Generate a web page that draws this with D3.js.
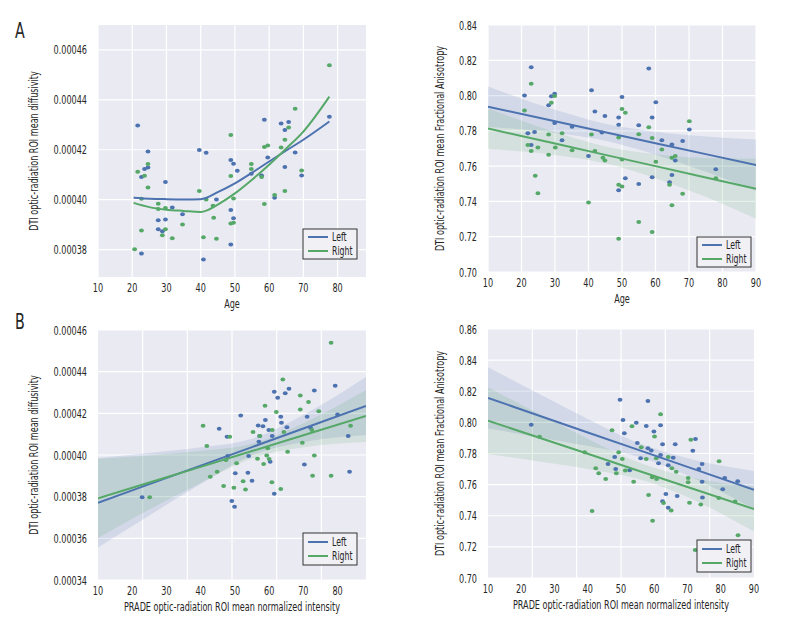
<!DOCTYPE html>
<html><head><meta charset="utf-8">
<script src="https://cdn.jsdelivr.net/npm/d3@7/dist/d3.min.js"></script>
<style>
body{margin:0;background:#fff;}
svg text{font-family:"DejaVu Sans Condensed","Liberation Sans Narrow","Arial Narrow",sans-serif;fill:#262626;}
</style></head>
<body><svg id="c" width="792" height="636"></svg>
<script>
// ---------- DATA ----------
const seriesNames = ["Left", "Right"];
const seriesColors = ["#4C72B0", "#55A868"];

// Panel A (left): Age vs mean diffusivity
const aMdLeftX = [21.6,24.6,23.6,24.6,22.7,29.7,31.7,34.7,27.6,29.7,27.6,28.8,22.7,39.6,41.6,40.8,44.6,48.8,49.6,50.7,48.8,49.6,48.8,54.8,57.8,58.6,59.6,63.5,65.7,64.6,64.6,67.6,61.6,69.5,77.6];
const aMdLeftY = [4.297,4.193,4.123,4.129,4.091,4.071,3.969,3.941,3.917,3.920,3.881,3.873,3.784,4.199,4.188,3.760,4.001,4.159,4.144,4.116,3.959,3.925,3.820,4.104,4.097,4.320,4.169,4.305,4.311,4.279,4.131,4.189,4.008,4.097,4.332].map(v=>v*1e-4);
const aMdRightX = [77.6,67.6,48.8,21.6,23.6,24.6,24.6,22.7,27.6,27.6,29.7,22.7,28.8,29.7,31.7,34.7,20.7,39.6,41.6,43.6,43.8,40.8,44.6,48.8,49.6,48.8,49.6,54.8,54.8,57.8,58.6,58.6,59.6,63.5,64.6,65.7,61.6,64.6,69.5];
const aMdRightY = [4.539,4.364,4.259,4.112,4.096,4.143,4.049,4.004,3.984,3.963,3.967,3.876,3.857,3.881,3.845,3.900,3.801,4.035,4.001,3.976,3.927,3.849,3.843,4.095,4.005,3.904,3.907,4.143,4.123,4.091,3.983,4.211,4.217,4.209,4.240,4.289,4.019,4.035,4.117].map(v=>v*1e-4);
// LOWESS curves
const aMdLeftFitX = [20.4,25,30,35,40,45,50,55,60,65,70,77.6];
const aMdLeftFitY = [4.008,4.004,4.002,4.001,4.002,4.030,4.065,4.108,4.153,4.197,4.240,4.313].map(v=>v*1e-4);
const aMdRightFitX = [20.4,25,30,35,40,42,45,50,55,60,65,70,77.6];
const aMdRightFitY = [3.987,3.970,3.960,3.955,3.951,3.958,3.980,4.025,4.080,4.140,4.205,4.273,4.413].map(v=>v*1e-4);

// Panel A (right): Age vs fractional anisotropy
const aFaLeftX = [22.9,20.9,28.9,29.9,28.1,21.9,23.9,22.9,29.9,32.1,35.1,40.9,41.9,44.9,49,49,50,40,55,51,55,49,58,60.1,59,61.9,64.9,68.1,70.1,59,64.9,65.9,64.2,78,44];
const aFaLeftY = [0.816,0.800,0.7996,0.801,0.7945,0.7787,0.7794,0.772,0.7844,0.7747,0.7823,0.803,0.791,0.7884,0.7876,0.7834,0.7992,0.7657,0.7832,0.7531,0.7499,0.7463,0.8154,0.7962,0.7876,0.7747,0.7722,0.7743,0.7808,0.7537,0.755,0.7632,0.7508,0.7583,0.779];
const aFaRightX = [22.9,20.9,28.9,29.9,21.9,22.9,24.9,24.1,24.9,28.1,28.1,32.1,30.1,35.1,40,41.9,40.9,44.3,44.9,50,51,49,50,49,50,55,55,49,58,59,60.1,59,61.9,64.9,65.9,64.2,64.9,68.1,70.1,78];
const aFaRightY = [0.8067,0.7916,0.796,0.7998,0.772,0.7686,0.7705,0.7545,0.7446,0.7779,0.7665,0.7787,0.7705,0.769,0.7394,0.7686,0.7779,0.7648,0.7632,0.7924,0.7903,0.7762,0.7638,0.7495,0.7484,0.7781,0.7284,0.7189,0.7821,0.776,0.7625,0.7227,0.7695,0.7648,0.7657,0.7495,0.7379,0.7444,0.7855,0.7531];
const aFaBandX = [10,30,45,60,75,90];
const aFaLeftFit = [0.7937,0.7854,0.7792,0.7730,0.7668,0.7606];
const aFaLeftHi  = [0.8052,0.7919,0.7840,0.7795,0.7768,0.7751];
const aFaLeftLo  = [0.7822,0.7789,0.7744,0.7665,0.7568,0.7461];
const aFaRightFit = [0.7813,0.7728,0.7664,0.7600,0.7536,0.7472];
const aFaRightHi  = [0.7928,0.7793,0.7712,0.7668,0.7646,0.7642];
const aFaRightLo  = [0.7698,0.7663,0.7616,0.7532,0.7426,0.7302];

// Panel B (left): PRADE intensity vs mean diffusivity
const bMdLeftX = [22.9,45.4,47.7,51.7,49.1,49.9,50.1,53.8,55.0,54.0,56.8,58.2,58.9,59.9,57.2,57.0,60.9,60.3,61.5,64.7,65.8,62.5,63.4,63.6,65.2,61.5,71.1,73.2,72.1,70.3,79.3,80.0,83.1,83.5,47.9];
const bMdLeftY = [3.797,4.126,4.088,4.190,3.779,3.752,3.912,3.915,3.877,3.995,4.142,4.138,4.168,4.120,4.091,4.064,4.091,3.968,4.304,4.296,4.318,4.275,4.184,4.155,4.133,3.814,4.184,4.310,4.131,3.954,4.333,4.194,4.091,3.920,3.995].map(v=>v*1e-4);
const bMdRightX = [25.1,40.7,41.8,48.5,42.8,44.8,46.7,49.7,50.5,47.4,52.4,53.1,55.3,57.3,58.8,56.6,58.4,59.3,59.6,60.0,60.9,60.8,62.1,63.4,64.0,64.3,65.4,69.1,71.5,69.1,69.7,72.5,73.2,72.7,74.5,78.1,78.1,83.8];
const bMdRightY = [3.797,4.141,4.043,4.088,3.896,3.920,3.851,3.843,3.960,3.976,3.874,3.834,4.110,4.091,4.237,3.982,3.957,3.998,4.032,3.981,4.120,3.869,4.206,3.837,4.362,4.110,4.016,4.286,4.254,4.218,4.059,4.120,3.998,3.901,4.210,3.901,4.539,4.141].map(v=>v*1e-4);
const bMdBandX = [10,25,40,55,70,88.3];
const bMdLeftFit = [3.771,3.860,3.949,4.038,4.127,4.235].map(v=>v*1e-4);
const bMdLeftHi  = [3.986,4.010,4.037,4.078,4.192,4.374].map(v=>v*1e-4);
const bMdLeftLo  = [3.556,3.710,3.861,3.998,4.062,4.096].map(v=>v*1e-4);
const bMdRightFit = [3.792,3.868,3.943,4.019,4.095,4.187].map(v=>v*1e-4);
const bMdRightHi  = [3.982,3.998,4.020,4.054,4.153,4.312].map(v=>v*1e-4);
const bMdRightLo  = [3.602,3.738,3.866,3.984,4.037,4.062].map(v=>v*1e-4);

// Panel B (right): PRADE intensity vs fractional anisotropy
const bFaLeftX = [23,49.7,58.1,50.6,54.6,51,57.6,61.9,59.9,54.9,58.1,59.1,62.5,66.3,48.1,55.9,61.9,61.3,65.7,64.2,46.1,48.4,52.6,71.6,72.4,74.4,73.4,74.4,81.2,85.1,80.6,74.5,63.5,66.9,62.5,64.2];
const bFaLeftY = [0.7985,0.8146,0.8137,0.8015,0.7998,0.793,0.7977,0.7981,0.7942,0.7868,0.7833,0.782,0.7859,0.7859,0.7778,0.7769,0.779,0.7737,0.7773,0.7724,0.7733,0.770,0.7692,0.7818,0.7893,0.7733,0.770,0.7619,0.7643,0.7621,0.757,0.7518,0.754,0.7527,0.7493,0.7452];
const bFaRightX = [61.9,53.3,47.3,60.1,56.1,71.0,49.3,50.4,57.6,60.6,64.2,42.4,43.3,45.4,48.6,51.3,53.8,59.4,60.7,65.3,66.6,39.1,25.5,70.2,70.2,79.5,41.3,58.3,59.5,62.8,65.1,70.6,74.0,79.4,84.3,85.2,72.3];
const bFaRightY = [0.8052,0.7975,0.7949,0.791,0.784,0.7889,0.7808,0.7765,0.7765,0.7769,0.7778,0.7705,0.7673,0.7636,0.7673,0.769,0.7619,0.7647,0.7636,0.7705,0.7682,0.7808,0.7908,0.7643,0.7615,0.775,0.7431,0.7533,0.7368,0.7482,0.7433,0.7484,0.7473,0.7514,0.7491,0.7274,0.718];
const bFaBandX = [10,25,40,55,70,90];
const bFaLeftFit = [0.8157,0.8046,0.7935,0.7825,0.7714,0.7566];
const bFaLeftHi  = [0.8354,0.8187,0.8022,0.7869,0.7770,0.7688];
const bFaLeftLo  = [0.7960,0.7905,0.7848,0.7781,0.7658,0.7444];
const bFaRightFit = [0.8011,0.7904,0.7798,0.7691,0.7585,0.7443];
const bFaRightHi  = [0.8225,0.8058,0.7895,0.7745,0.7650,0.7588];
const bFaRightLo  = [0.7797,0.7750,0.7701,0.7637,0.7520,0.7298];

// Tick labels
const xTicksAgeMd = [10,20,30,40,50,60,70,80];
const xTicks10to90 = [10,20,30,40,50,60,70,80,90];
const yTicksMdA = [0.00038,0.00040,0.00042,0.00044,0.00046];
const yTicksMdB = [0.00034,0.00036,0.00038,0.00040,0.00042,0.00044,0.00046];
const yTicksFaA = [0.70,0.72,0.74,0.76,0.78,0.80,0.82,0.84];
const yTicksFaB = [0.70,0.72,0.74,0.76,0.78,0.80,0.82,0.84,0.86];

const mdLabel = "DTI optic-radiation ROI mean diffusivity";
const faLabel = "DTI optic-radiation ROI mean Fractional Anisotropy";
const pradeLabel = "PRADE optic-radiation ROI mean normalized intensity";

// ---------- DRAW ----------
const svg = d3.select("#c");
const zip = (xs, ys) => xs.map((x,i)=>[x, ys[i]]);
const FS = 12.5, SQ = 0.72;

function panel(o){
  const x = d3.scaleLinear().domain(o.xDom).range([o.l, o.r]);
  const y = d3.scaleLinear().domain(o.yDom).range([o.b, o.t]);
  const g = svg.append("g");
  g.append("rect").attr("x",o.l).attr("y",o.t).attr("width",o.r-o.l).attr("height",o.b-o.t).attr("fill","#EAEAF2");
  const gx = o.gridX ? o.gridX(x) : o.xTicks.map(v=>x(v));
  g.selectAll(".gx").data(gx).enter().append("line")
    .attr("x1",d=>d).attr("x2",d=>d).attr("y1",o.t).attr("y2",o.b).attr("stroke","#fff").attr("stroke-width",1.2);
  g.selectAll(".gy").data(o.yTicks).enter().append("line")
    .attr("y1",d=>y(d)).attr("y2",d=>y(d)).attr("x1",o.l).attr("x2",o.r).attr("stroke","#fff").attr("stroke-width",1.2);
  const clip = "clip"+Math.round(o.l)+Math.round(o.t);
  svg.append("clipPath").attr("id",clip).append("rect").attr("x",o.l).attr("y",o.t).attr("width",o.r-o.l).attr("height",o.b-o.t);
  const inner = g.append("g").attr("clip-path",`url(#${clip})`);
  (o.bands||[]).forEach((bd,i)=>{
    const area = d3.area().curve(d3.curveMonotoneX).x((d,j)=>x(bd.x[j])).y0((d,j)=>y(bd.lo[j])).y1((d,j)=>y(bd.hi[j]));
    inner.append("path").datum(bd.x).attr("d",area).attr("fill",seriesColors[i]).attr("fill-opacity",0.15);
  });
  o.points.forEach((p,i)=>{
    inner.selectAll(null).data(zip(p.x,p.y)).enter().append("ellipse")
      .attr("cx",d=>x(d[0])).attr("cy",d=>y(d[1])).attr("rx",2.4).attr("ry",2)
      .attr("fill",seriesColors[i]);
  });
  o.fits.forEach((f,i)=>{
    const line = d3.line().curve(f.smooth?d3.curveMonotoneX:d3.curveLinear).x(d=>x(d[0])).y(d=>y(d[1]));
    inner.append("path").datum(zip(f.x,f.y)).attr("d",line).attr("fill","none")
      .attr("stroke",seriesColors[i]).attr("stroke-width",2);
  });
  const xl = o.xLabelScale ? o.xLabelScale : x;
  // horizontally condensed text: translate to anchor point, then squeeze
  const hText = (sel, px, py, anchor, fs, str) => sel.append("text")
      .attr("transform",`translate(${px},${py}) scale(${SQ},1)`)
      .attr("text-anchor",anchor).attr("font-size",fs).text(str);
  o.xTicks.forEach(v=>hText(g, xl(v), o.b+15, "middle", FS, v));
  o.yTicks.forEach(v=>hText(g, o.l-11, y(v)+4.5, "end", FS, o.yFmt(v)));
  hText(g, (o.l+o.r)/2, o.b+31, "middle", FS, o.xLabel);
  g.append("text").attr("transform",`translate(${o.yLabX},${(o.t+o.b)/2}) rotate(-90) scale(${SQ},1)`)
    .attr("text-anchor","middle").attr("font-size",FS).text(o.yLabel);
  const lg = g.append("g").attr("transform",`translate(${o.leg[0]},${o.leg[1]})`);
  lg.append("rect").attr("width",54).attr("height",o.leg[2]).attr("fill","#F0F0F5").attr("stroke","#333").attr("stroke-width",1);
  seriesNames.forEach((n,i)=>{
    const yy = o.leg[2]/2 + (i===0?-7:7);
    lg.append("line").attr("x1",5).attr("x2",25).attr("y1",yy).attr("y2",yy).attr("stroke",seriesColors[i]).attr("stroke-width",2);
    hText(lg, 29, yy+4, "start", 12, n);
  });
}

const fmtMd = d3.format(".5f"), fmtFa = d3.format(".2f");

panel({l:98,r:366,t:25,b:277,xDom:[10,88.3],yDom:[0.000369,0.00047],
  xTicks:xTicksAgeMd,yTicks:yTicksMdA,yFmt:fmtMd,xLabel:"Age",yLabel:mdLabel,yLabX:38,
  points:[{x:aMdLeftX,y:aMdLeftY},{x:aMdRightX,y:aMdRightY}],
  fits:[{x:aMdLeftFitX,y:aMdLeftFitY,smooth:true},{x:aMdRightFitX,y:aMdRightFitY,smooth:true}],
  leg:[303,229,30]});

panel({l:488,r:756,t:25,b:272,xDom:[10,90],yDom:[0.70,0.84],
  xTicks:xTicks10to90,yTicks:yTicksFaA,yFmt:fmtFa,xLabel:"Age",yLabel:faLabel,yLabX:444,
  points:[{x:aFaLeftX,y:aFaLeftY},{x:aFaRightX,y:aFaRightY}],
  bands:[{x:aFaBandX,lo:aFaLeftLo,hi:aFaLeftHi},{x:aFaBandX,lo:aFaRightLo,hi:aFaRightHi}],
  fits:[{x:aFaBandX,y:aFaLeftFit},{x:aFaBandX,y:aFaRightFit}],
  leg:[697,237,30]});

const sixths = x => { const [a,b]=x.range(); return d3.range(1,6).map(k=>a+(b-a)*k/6); };

panel({l:98,r:366,t:330,b:580,xDom:[10,88.3],yDom:[0.00034,0.00046],
  xTicks:xTicksAgeMd,yTicks:yTicksMdB,yFmt:fmtMd,xLabel:pradeLabel,yLabel:mdLabel,yLabX:38,
  gridX:sixths,
  points:[{x:bMdLeftX,y:bMdLeftY},{x:bMdRightX,y:bMdRightY}],
  bands:[{x:bMdBandX,lo:bMdLeftLo,hi:bMdLeftHi},{x:bMdBandX,lo:bMdRightLo,hi:bMdRightHi}],
  fits:[{x:bMdBandX,y:bMdLeftFit},{x:bMdBandX,y:bMdRightFit}],
  leg:[303,533,32]});

panel({l:488,r:754,t:329,b:578,xDom:[10,90],yDom:[0.70,0.86],
  xTicks:xTicks10to90,yTicks:yTicksFaB,yFmt:fmtFa,xLabel:pradeLabel,yLabel:faLabel,yLabX:444,
  gridX:sixths,
  points:[{x:bFaLeftX,y:bFaLeftY},{x:bFaRightX,y:bFaRightY}],
  bands:[{x:bFaBandX,lo:bFaLeftLo,hi:bFaLeftHi},{x:bFaBandX,lo:bFaRightLo,hi:bFaRightHi}],
  fits:[{x:bFaBandX,y:bFaLeftFit},{x:bFaBandX,y:bFaRightFit}],
  leg:[697,540,32]});

svg.append("text").attr("transform",`translate(15,38) scale(${SQ},1)`).attr("font-size",22).text("A");
svg.append("text").attr("transform",`translate(15,329) scale(${SQ},1)`).attr("font-size",22).text("B");
</script></body></html>
